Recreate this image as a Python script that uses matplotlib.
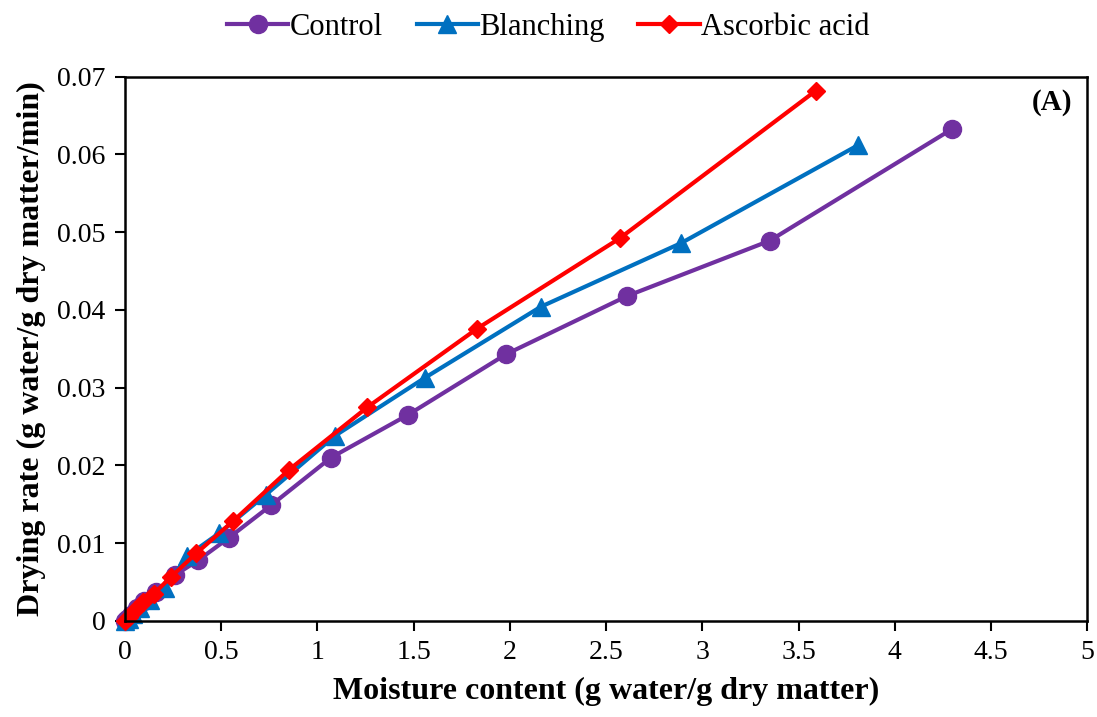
import matplotlib
matplotlib.use("Agg")
import matplotlib.pyplot as plt

# ── Data ──────────────────────────────────────────────────────────────────────
control_x = [4.30, 3.35, 2.61, 1.98, 1.47, 1.07, 0.76, 0.54, 0.38, 0.26, 0.16, 0.10, 0.06, 0.03, 0.01, 0.0]
control_y = [0.0633, 0.0489, 0.0418, 0.0343, 0.0265, 0.0210, 0.0149, 0.0107, 0.0078, 0.0059,
             0.0037, 0.0026, 0.0016, 0.0008, 0.0003, 0.0]

blanch_x = [3.81, 2.89, 2.16, 1.56, 1.09, 0.73, 0.49, 0.32, 0.21, 0.13, 0.08, 0.04, 0.02, 0.0]
blanch_y = [0.0612, 0.0486, 0.0404, 0.0313, 0.0238, 0.0162, 0.0113, 0.0083, 0.0042, 0.0027,
            0.0017, 0.0009, 0.0003, 0.0]

ascorbic_x = [3.59, 2.57, 1.83, 1.26, 0.85, 0.56, 0.37, 0.24, 0.15, 0.095, 0.05, 0.02, 0.0]
ascorbic_y = [0.0682, 0.0492, 0.0376, 0.0275, 0.0194, 0.0128, 0.0087, 0.0057, 0.0035, 0.0024,
              0.0014, 0.0005, 0.0]

xticks = [0, 0.5, 1, 1.5, 2, 2.5, 3, 3.5, 4, 4.5, 5]
xticklabels = ["0", "0.5", "1", "1.5", "2", "2.5", "3", "3.5", "4", "4.5", "5"]
yticks = [0, 0.01, 0.02, 0.03, 0.04, 0.05, 0.06, 0.07]
yticklabels = ["0", "0.01", "0.02", "0.03", "0.04", "0.05", "0.06", "0.07"]

plt.rcParams["font.family"] = ["Liberation Serif", "DejaVu Serif"]

fig = plt.figure(figsize=(10.97, 7.17), dpi=100)
ax = fig.add_axes([0.114, 0.134, 0.877, 0.759])

ax.plot(control_x, control_y, color="#7030A0", lw=3, marker="o", ms=13,
        label="Control", clip_on=False)
ax.plot(blanch_x, blanch_y, color="#0070C0", lw=3, marker="^", ms=13,
        label="Blanching", clip_on=False)
ax.plot(ascorbic_x, ascorbic_y, color="#FF0000", lw=3, marker="D", ms=9.5,
        label="Ascorbic acid", clip_on=False)

ax.set_xlim(0, 5)
ax.set_ylim(0, 0.07)
ax.set_xticks(xticks)
ax.set_xticklabels(xticklabels)
ax.set_yticks(yticks)
ax.set_yticklabels(yticklabels)
ax.tick_params(direction="out", length=7, width=1.5, labelsize=20, pad=7)
for sp in ax.spines.values():
    sp.set_linewidth(1.8)

ax.set_xlabel("Moisture content (g water/g dry matter)", fontsize=23, fontweight="bold", labelpad=8)
ax.set_ylabel("Drying rate (g water/g dry matter/min)", fontsize=23, fontweight="bold", labelpad=8)

ax.text(0.985, 0.953, "(A)", transform=ax.transAxes, ha="right", va="center",
        fontsize=21, fontweight="bold")

fig.legend(loc="upper center", bbox_to_anchor=(0.5, 1.02), ncol=3, frameon=False,
           fontsize=22, handlelength=2.0, handletextpad=0.05, columnspacing=1.1)

fig.savefig("out.png", dpi=100)
